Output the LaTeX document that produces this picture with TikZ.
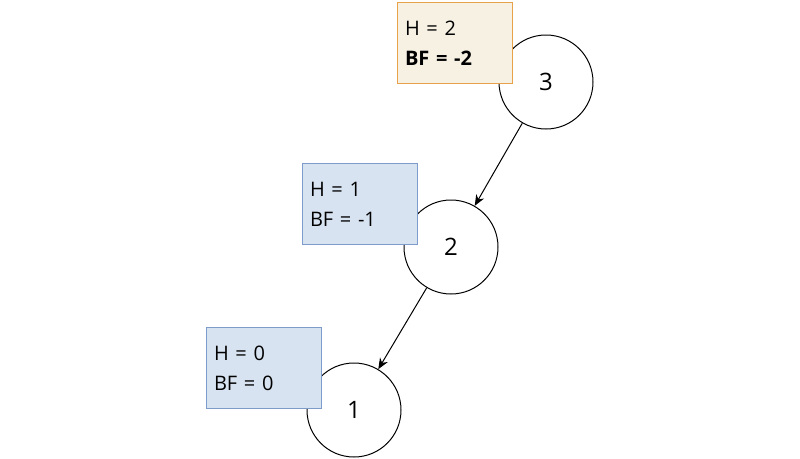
\documentclass[tikz,border=0pt]{standalone}
\usepackage{fontspec}
\setmainfont{Open Sans}
\usetikzlibrary{arrows.meta}
\begin{document}
\begin{tikzpicture}[x=1pt,y=-1pt,
  nd/.style={circle,draw,line width=1pt,minimum size=94pt,inner sep=0pt,font=\fontsize{24}{28}\selectfont,fill=white},
  ob/.style={draw=#1,line width=1pt,minimum width=115pt,minimum height=81pt,anchor=north west,align=left,text width=100pt,inner sep=0pt,font=\fontsize{20}{30}\selectfont},
  ar/.style={-{Stealth[length=11pt,width=9pt]},line width=1pt}]
\useasboundingbox (0,0) rectangle (800,458);
\definecolor{ofill}{HTML}{F7F1E4}\definecolor{odraw}{HTML}{E8A24A}
\definecolor{bfill}{HTML}{D7E3F1}\definecolor{bdraw}{HTML}{7F9BC9}
\node[nd] (n3) at (546,82) {3};
\node[nd] (n2) at (451,247) {2};
\node[nd] (n1) at (354,410) {1};
\node[ob=odraw,fill=ofill] (b3) at (397,2) {H = 2\\\textbf{BF = -2}};
\node[ob=bdraw,fill=bfill] (b2) at (302,163) {H = 1\\BF = -1};
\node[ob=bdraw,fill=bfill] (b1) at (206,327) {H = 0\\BF = 0};
\draw[ar] (n3) -- (n2);
\draw[ar] (n2) -- (n1);
\end{tikzpicture}
\end{document}
